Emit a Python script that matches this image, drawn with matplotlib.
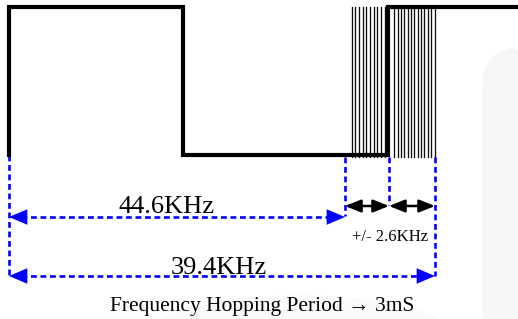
import matplotlib.pyplot as plt
from matplotlib.patches import FancyBboxPatch, Ellipse

plt.rcParams['font.family'] = ['Liberation Serif', 'DejaVu Serif']

# hopping waveform (diagram units, y grows downward)
hop_x = [9, 9, 183, 183, 388, 388, 520]
hop_y = [155, 7, 7, 155, 155, 7, 7]

# fine hopping lines around the switch point
fine_left = [351.5, 355.2, 358.9, 362.6, 366.3, 370.0, 373.7, 377.4, 381.1, 384.8]
fine_right = [394.0, 397.5, 401.0, 404.3, 407.7, 411.0, 414.3, 417.7, 421.0,
              424.3, 427.7, 431.0, 434.5]
fine_top_left, fine_top_right, fine_bottom = 7, 9, 157

# dimension markers: (x, y_top, y_bottom)
guides = [(9, 155, 276), (345, 157, 216), (389, 157, 205), (435, 157, 276)]
span_main = (9, 345, 217)      # 44.6KHz
span_total = (9, 435, 276)     # 39.4KHz
span_dev = [(345, 389), (389, 435)]
dev_y = 206

fig = plt.figure(figsize=(5.18, 3.19), dpi=100)
ax = fig.add_axes([0, 0, 1, 1])
ax.set_xlim(0, 518)
ax.set_ylim(319, 0)
ax.axis('off')

# faint background shapes
ax.add_patch(FancyBboxPatch((482, 48), 60, 300, boxstyle='round,pad=0,rounding_size=40',
                            fc='#f6f6f6', ec='none', zorder=0))
ax.add_patch(Ellipse((300, 335), 300, 80, fc='#fafafa', ec='none', zorder=0))

for x in fine_left:
    ax.plot([x, x], [fine_top_left, fine_bottom], color='#111111', lw=0.95, zorder=2)
for x in fine_right:
    ax.plot([x, x], [fine_top_right, fine_bottom], color='#111111', lw=0.95, zorder=2)

ax.plot(hop_x, hop_y, color='black', lw=3.0, solid_joinstyle='miter', zorder=3)

blue = '#0000ff'
for x, y0, y1 in guides:
    ax.plot([x, x], [y0, y1], color=blue, lw=1.9, ls=(0, (2.2, 1.4)), zorder=2)

for x0, x1, y in [span_main, span_total]:
    ax.plot([x0 + 12, x1 - 12], [y, y], color=blue, lw=1.9, ls=(0, (2.2, 1.4)), zorder=2)
    for tip, tail in [(x0, x0 + 18), (x1, x1 - 18)]:
        ax.annotate('', xy=(tip, y), xytext=(tail, y),
                    arrowprops=dict(arrowstyle='-|>,head_length=1.3,head_width=0.55',
                                    color=blue, lw=0.1, shrinkA=0, shrinkB=0))

for x0, x1 in span_dev:
    ax.annotate('', xy=(x1, dev_y), xytext=(x0, dev_y),
                arrowprops=dict(arrowstyle='<|-|>,head_length=0.95,head_width=0.38',
                                color='black', lw=1.8, shrinkA=0, shrinkB=0))

ax.text(167, 213, '44.6KHz', fontsize=19, ha='center', va='baseline')
ax.text(219, 274, '39.4KHz', fontsize=19, ha='center', va='baseline')
ax.text(390, 241, '+/- 2.6KHz', fontsize=12, ha='center', va='baseline')
ax.text(262, 311, 'Frequency Hopping Period \u2192 3mS', fontsize=15.5,
        ha='center', va='baseline')

fig.savefig('out.png', dpi=100)
